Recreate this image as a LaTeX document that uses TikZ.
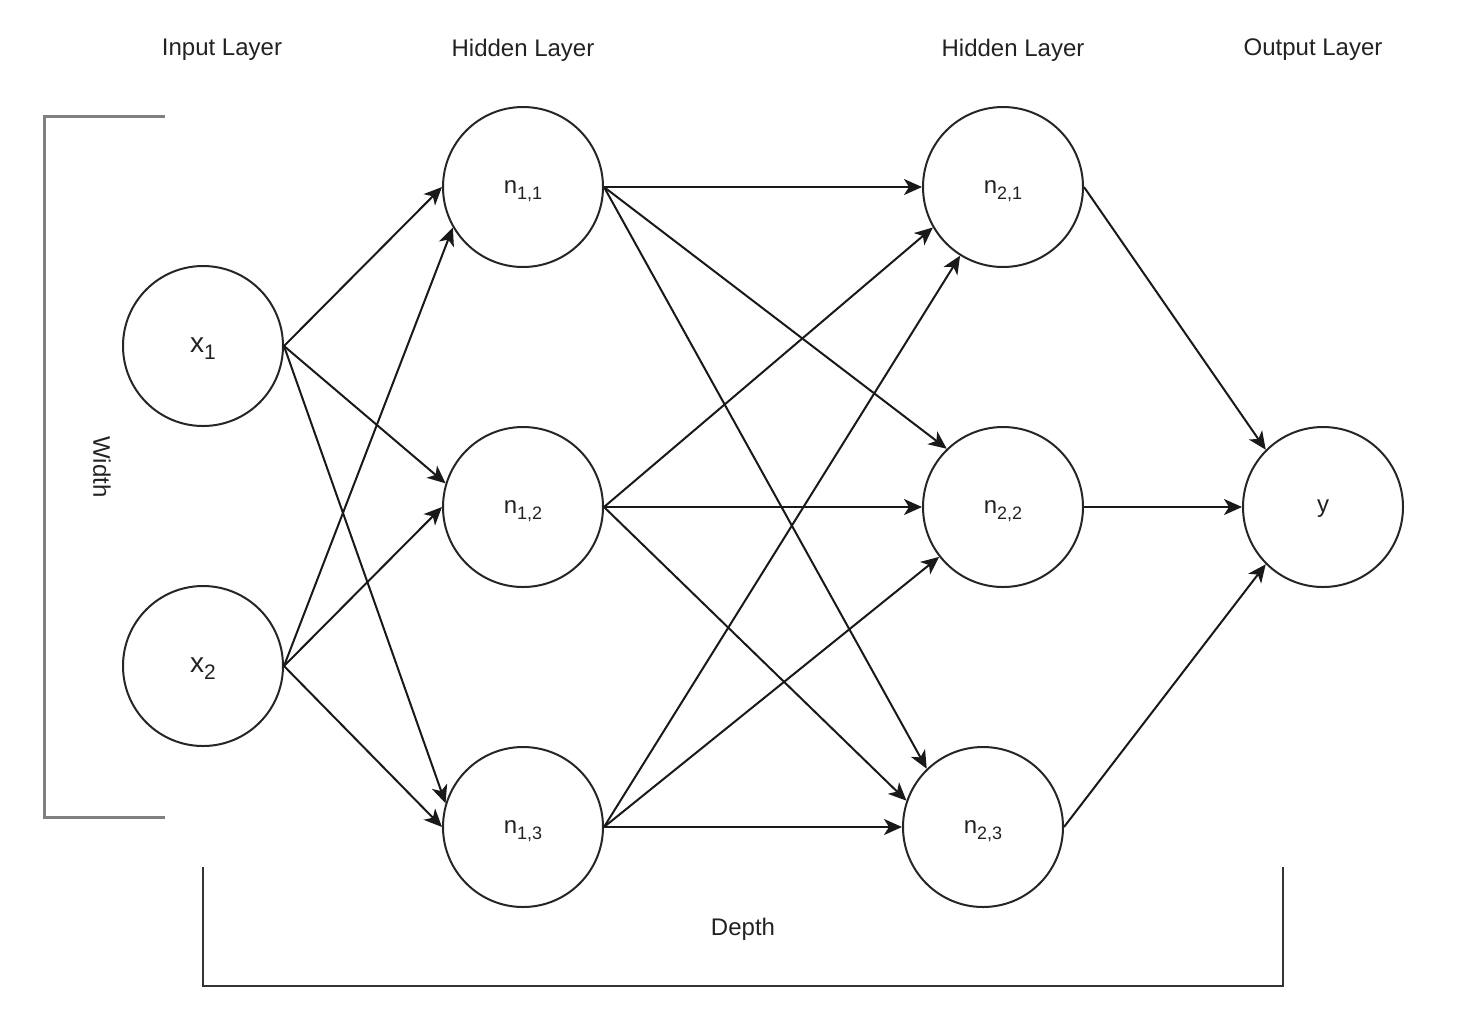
\documentclass[tikz,border=0pt]{standalone}
\usepackage{fontspec}
\setmainfont{Liberation Sans}
\usetikzlibrary{arrows.meta}
\definecolor{txt}{HTML}{222222}
\definecolor{brk}{HTML}{808080}
\definecolor{dbrk}{HTML}{333333}
\newcommand{\nsub}[1]{\raisebox{-3pt}{\fontsize{9}{10}\selectfont #1}}
\newcommand{\xsub}[1]{\raisebox{-3.5pt}{\fontsize{10.5}{12}\selectfont #1}}
\tikzset{
  neuron/.style={circle, draw=black!85, line width=1pt, minimum size=80pt, inner sep=0pt, text=txt, text height=6.5pt, text depth=0pt, font=\fontsize{12}{14}\selectfont},
  lbl/.style={text=txt, font=\fontsize{12}{14}\selectfont, inner sep=0pt},
  conn/.style={draw=black!90, line width=1pt, -{Stealth[length=9pt, width=8pt, inset=2.5pt]}},
}
\begin{document}
\begin{tikzpicture}[x=0.5pt, y=-0.5pt]
\useasboundingbox (0,0) rectangle (1462,1014);
% titles
\node[lbl] (t1) at (222,50) {Input Layer};
\node[lbl] (t2) at (523,50) {Hidden Layer};
\node[lbl] (t3) at (1013,50) {Hidden Layer};
\node[lbl] (t4) at (1313,50) {Output Layer};
% neurons
\node[neuron, font=\fontsize{14}{16}\selectfont] (x1) at (203,346) {x\xsub{1}};
\node[neuron, font=\fontsize{14}{16}\selectfont] (x2) at (203,666) {x\xsub{2}};
\node[neuron] (n11) at (523,187) {n\nsub{1,1}};
\node[neuron] (n12) at (523,507) {n\nsub{1,2}};
\node[neuron] (n13) at (523,827) {n\nsub{1,3}};
\node[neuron] (n21) at (1003,187) {n\nsub{2,1}};
\node[neuron] (n22) at (1003,507) {n\nsub{2,2}};
\node[neuron] (n23) at (983,827) {n\nsub{2,3}};
\node[neuron, text height=5.5pt] (y) at (1323,507) {y};
% edges input -> hidden1
\draw[conn] (x1.east) -- (n11.180);
\draw[conn] (x1.east) -- (n12.163);
\draw[conn] (x1.east) -- (n13.163);
\draw[conn] (x2.east) -- (n11.210);
\draw[conn] (x2.east) -- (n12.180);
\draw[conn] (x2.east) -- (n13.180);
% hidden1 -> hidden2
\draw[conn] (n11.east) -- (n21.180);
\draw[conn] (n11.east) -- (n22.134);
\draw[conn] (n11.east) -- (n23.134);
\draw[conn] (n12.east) -- (n21.210);
\draw[conn] (n12.east) -- (n22.180);
\draw[conn] (n12.east) -- (n23.161);
\draw[conn] (n13.east) -- (n21.238);
\draw[conn] (n13.east) -- (n22.218);
\draw[conn] (n13.east) -- (n23.180);
% hidden2 -> output
\draw[conn] (n21.east) -- (y.135);
\draw[conn] (n22.east) -- (y.180);
\draw[conn] (n23.east) -- (y.225);
% width bracket
\coordinate (wa) at (165,116);
\coordinate (wb) at (44,116);
\coordinate (wc) at (44,817);
\coordinate (wd) at (165,817);
\draw[brk, line width=1.5pt] (wa) -- (wb) -- (wc) -- (wd);
\node[lbl, rotate=-90] (wl) at (102,467) {Width};
% depth bracket
\coordinate (da) at (203,867);
\coordinate (db) at (203,986);
\coordinate (dc) at (1283,986);
\coordinate (dd) at (1283,867);
\draw[dbrk, line width=1pt] (da) -- (db) -- (dc) -- (dd);
\node[lbl] (dl) at (743,929) {Depth};
\end{tikzpicture}
\end{document}
